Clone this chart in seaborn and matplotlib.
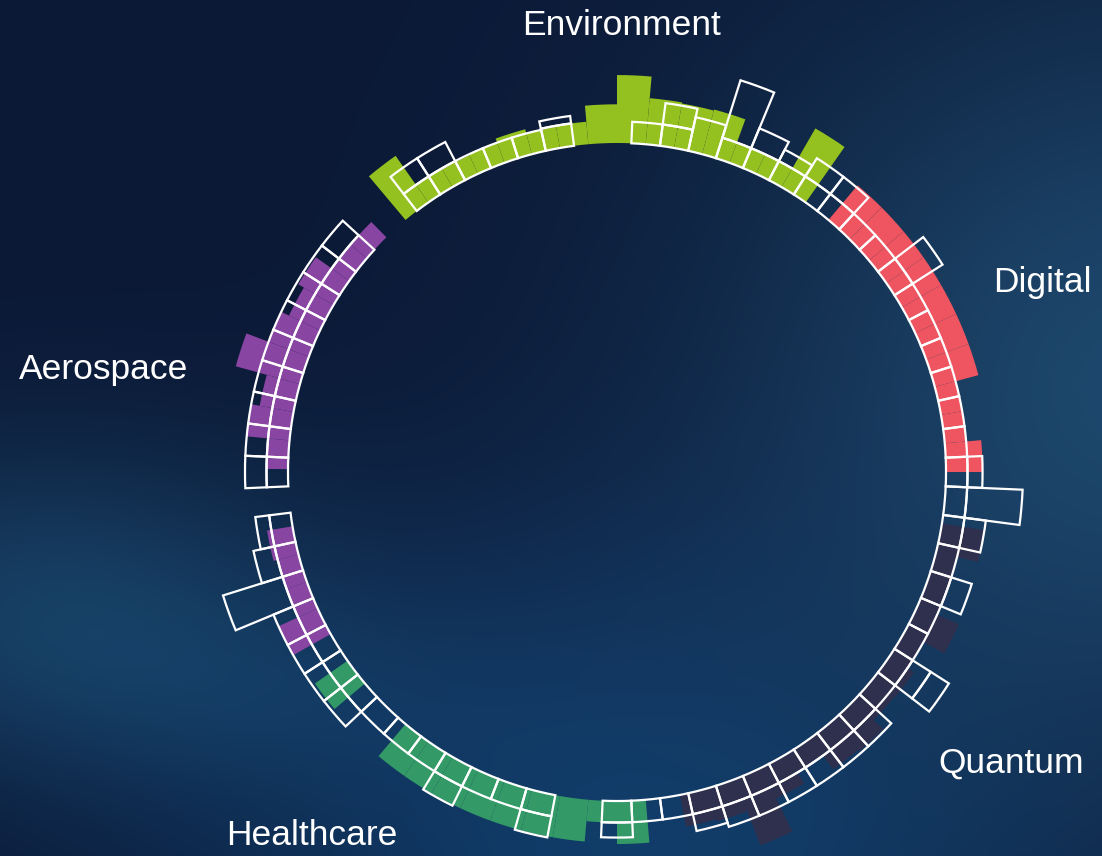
import numpy as np
import matplotlib
matplotlib.use("Agg")
import matplotlib.pyplot as plt
import seaborn as sns

sns.set_theme(style="white")
plt.rcParams["font.family"] = ["Liberation Sans", "DejaVu Sans"]

# ---------------- data ----------------
categories = ["Environment", "Digital", "Quantum", "Healthcare", "Aerospace"]
cat_colors = ["#94C11F", "#EE5560", "#2F2F4E", "#339966", "#8845A2"]

# filled bars (values in box units), each group: start angle, 5-degree slots
env_fill = [2.65, 1.0, 0.95, 1.0, 1.2, 1.0, 1.05, 1.8, 3.16, 2.15, 2.1, 2.15, 1.0, 1.0, 3.15]
dig_fill = [2.1, 2.1, 2.1, 2.1, 2.1, 2.1, 2.1, 1.0, 1.0, 1.7]
qua_fill = [2.0, 1.0, 1.0, 2.1, 1.0, 1.35, 1.3, 1.9, 1.8, 1.0, 1.6, 3.3, 1.6, 1.5]
hea_fill = [2.0, 1.0, 1.95, 1.95, 1.95, 1.95, 1.95, 1.95, 1.95, 0, 0, 1.85]
aer_fill_low = [2.0, 1.0, 1.0, 1.2]
aer_fill_up = [1.0, 2.0, 1.6, 3.1, 2.0, 1.6, 1.9, 1.0, 1.0]

fill_groups = [
    (0, -40.0, env_fill),
    (1, 40.0, dig_fill),
    (2, 99.0, qua_fill),
    (3, 175.0, hea_fill),
    (4, 240.5, aer_fill_low),
    (4, 270.5, aer_fill_up),
]

# outlined boxes: stacks of segment heights per slot
ring_boxes = [
    [1, 1], [1, 1], [1], [1], [1], [1.05, 0.35], [], [], [1], [1, 1], [1.6], [1, 2.8],
    [1, 1], [1, 0.6], [1, 1], [1, 1],
    [1], [1], [1, 1.65], [1], [1], [1], [1], [1], [1], [1, 0.7],
    [1, 2.58], [1, 1], [1], [1, 1], [1], [1], [1, 1, 1], [1], [1, 1], [1, 1],
    [1, 1], [1, 1], [1, 1], [1, 1], [1, 0.8], [1], [1], [1, 0.7],
]
health_boxes = [[1, 1], [1], [1], [1, 1], [1], [1], [1], [1, 1], [1, 1], [1, 1], [1, 1],
                [1, 2.9], [1, 1], [1, 0.65]]
aero_boxes = [[1, 1]] * 9

box_groups = [
    (-37.5, 5.0, ring_boxes),
    (190.8, 5.15, health_boxes),
    (267.5, 5.0, aero_boxes),
]

label_angle = [0.6, 66.0, 126.5, 220.0, 281.3]
label_radius = [447, 466, 490, 475, 524]

# ---------------- figure ----------------
W, H = 1102, 856
fig = plt.figure(figsize=(W / 100, H / 100), dpi=100)

# background gradient
bg_ax = fig.add_axes([0, 0, 1, 1], zorder=-10)
yy, xx = np.mgrid[0:H, 0:W]
base = np.array([11, 25, 54], float)
img = np.ones((H, W, 3)) * base
def blob(cx, cy, sx, sy, add):
    g = np.exp(-(((xx - cx) / sx) ** 2 + ((yy - cy) / sy) ** 2))
    return g[..., None] * np.array(add, float)
img += blob(1150, 380, 430, 400, [18, 46, 54])
img += blob(40, 600, 280, 160, [11, 34, 40])
img += blob(620, 900, 460, 230, [4, 30, 44])
img += blob(600, 640, 300, 200, [3, 12, 18])
img += blob(250, 700, 260, 110, [3, 12, 16])
img = np.clip(img / 255.0, 0, 1)
bg_ax.imshow(img, aspect="auto", extent=[0, W, H, 0])
bg_ax.set_axis_off()

CX, CY = 617, 472
RMAX = 600
ax = fig.add_axes([(CX - RMAX) / W, (H - CY - RMAX) / H, 2 * RMAX / W, 2 * RMAX / H],
                  projection="polar")
ax.set_theta_zero_location("N")
ax.set_theta_direction(-1)
ax.set_ylim(0, RMAX)
ax.patch.set_alpha(0)
ax.grid(False)
ax.set_xticks([])
ax.set_yticks([])
ax.spines["polar"].set_visible(False)

R0 = 329.0
U = 21.5
SLOT = 5.0

for ci, start, vals in fill_groups:
    th = np.deg2rad(start + SLOT * (np.arange(len(vals)) + 0.5))
    h = np.array(vals, float) * U
    ax.bar(th, h, width=np.deg2rad(SLOT), bottom=R0, color=cat_colors[ci],
           edgecolor="none", linewidth=0, align="center", zorder=2)

for start, width, stacks in box_groups:
    for i, stack in enumerate(stacks):
        cum = 0.0
        th = np.deg2rad(start + width * (i + 0.5))
        for seg in stack:
            ax.bar(th, seg * U, width=np.deg2rad(width), bottom=R0 + cum * U,
                   facecolor="none", edgecolor="white", linewidth=1.6, zorder=3)
            cum += seg

for name, a, r in zip(categories, label_angle, label_radius):
    ax.text(np.deg2rad(a), r, name, ha="center", va="center", color="white",
            fontsize=25.5, zorder=5)

fig.savefig("out.png", dpi=100)
